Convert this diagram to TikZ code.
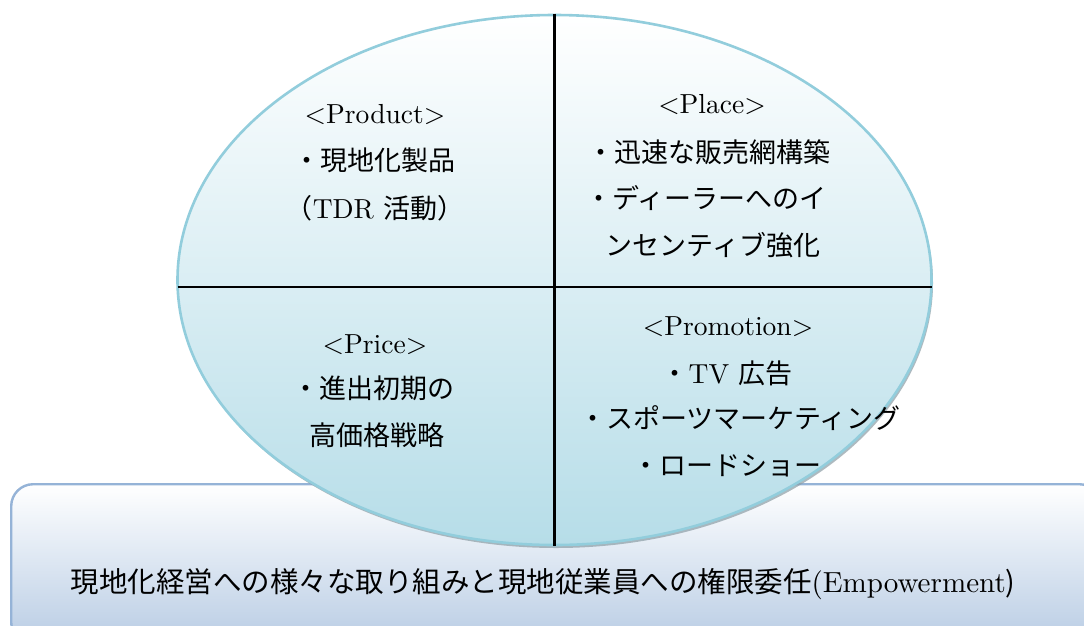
\documentclass[tikz,border=0pt]{standalone}
\usepackage{fontspec}
\setmainfont{lmroman10-regular.otf}[Scale=1.02]
\newfontfamily\cjk{Noto Sans CJK JP}
\usetikzlibrary{shapes.geometric,shadows}
\definecolor{ellborder}{HTML}{92CDDC}
\definecolor{ellbot}{HTML}{B6DDE8}
\definecolor{boxborder}{HTML}{95B3D7}
\definecolor{boxbot}{HTML}{B8CCE4}
\definecolor{shadowc}{HTML}{8C9EA6}
\begin{document}
\begin{tikzpicture}[x=1pt,y=-1pt,
  txt/.style={font=\fontsize{27}{32}\selectfont, inner sep=0pt, anchor=base},
  bigtxt/.style={font=\fontsize{28.5}{34}\selectfont, inner sep=0pt, anchor=base},
  divider/.style={draw=black, line width=2.2pt},
  basebox/.style={draw=boxborder, line width=2.4pt, rounded corners=22pt,
    top color=white, bottom color=boxbot, inner sep=0pt, anchor=north west},
  oval/.style={ellipse, draw=ellborder, line width=2.6pt, top color=white,
    bottom color=ellbot, inner sep=0pt,
    drop shadow={shadow xshift=1.5pt, shadow yshift=-3pt, fill=shadowc, opacity=.7}}]
\useasboundingbox (0,0) rectangle (1084,625);
\clip (0,0) rectangle (1084,625);
\fill[white] (0,0) rectangle (1084,625);

% base box
\node[basebox, minimum width=1090pt, minimum height=160pt] (box) at (10,483) {};
\node[bigtxt] (boxtext) at (543,592) {{\cjk 現地化経営への様々な取り組みと現地従業員への権限委任}(Empowerment{\cjk )}};

% ellipse
\node[oval, minimum width=754pt, minimum height=530pt] (E) at (554.5,280) {};
\coordinate (hl) at (177.5,287);
\coordinate (hr) at (931.5,287);
\draw[divider] (E.north) -- (E.south);
\draw[divider] (hl) -- (hr);

% Product
\node[txt] (prod1) at (375,123) {<Product>};
\node[txt] (prod2) at (374,170) {\cjk ・現地化製品};
\node[txt] (prod3) at (375,218) {{\cjk （}TDR {\cjk 活動）}};

% Place
\node[txt] (place1) at (712,113) {<Place>};
\node[txt] (place2) at (709,162) {\cjk ・迅速な販売網構築};
\node[txt] (place3) at (706,208) {\cjk ・ディーラーへのイ};
\node[txt] (place4) at (713,255) {\cjk ンセンティブ強化};

% Price
\node[txt] (price1) at (375,353) {<Price>};
\node[txt] (price2) at (373,398) {\cjk ・進出初期の};
\node[txt] (price3) at (377,445) {\cjk 高価格戦略};

% Promotion
\node[txt] (promo1) at (728,335) {<Promotion>};
\node[txt] (promo2) at (727,383) {{\cjk ・}TV {\cjk 広告}};
\node[txt] (promo3) at (740,428) {\cjk ・スポーツマーケティング};
\node[txt] (promo4) at (727,475) {\cjk ・ロードショー};
\end{tikzpicture}
\end{document}
